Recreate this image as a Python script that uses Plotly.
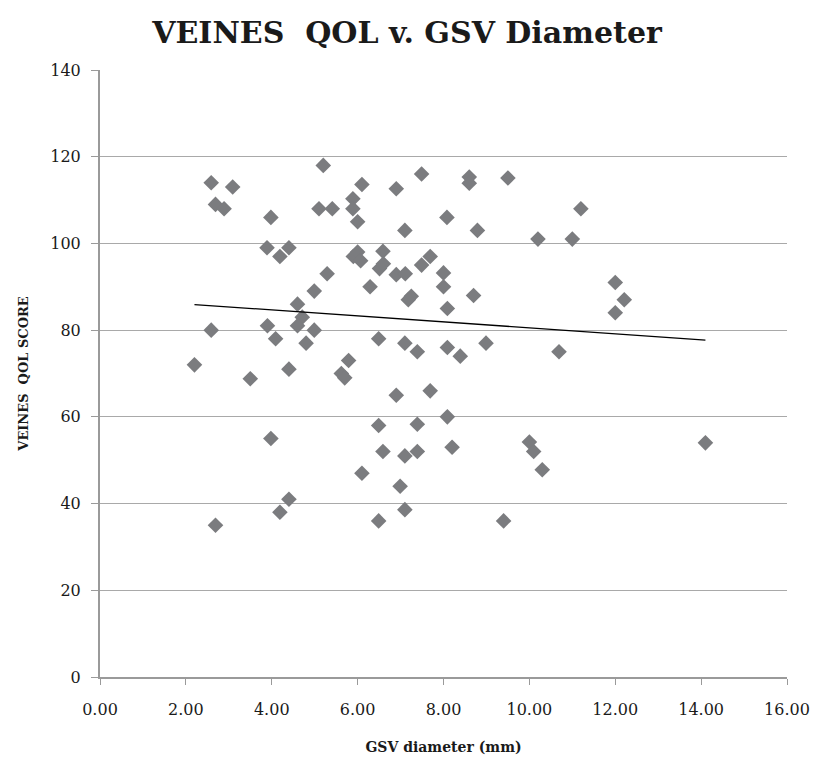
import plotly.graph_objects as go

gsv_diameter = [2.20, 2.59, 3.09, 2.69, 2.89, 5.20, 3.98, 5.10, 5.41, 3.89,
                4.40, 4.19, 5.29, 4.99, 4.60, 4.71, 4.60, 3.90, 2.59, 4.99,
                4.09, 4.80, 4.40, 3.50, 5.62, 5.70, 5.79, 6.10, 7.49, 6.90,
                8.60, 8.60, 9.50, 5.89, 5.89, 6.00, 8.08, 11.20, 7.10, 8.79,
                10.20, 11.00, 5.90, 6.00, 6.07, 6.59, 6.51, 6.60, 6.90, 7.11,
                7.69, 7.49, 8.00, 8.00, 6.29, 7.25, 7.18, 8.09, 8.70, 6.49,
                7.10, 7.39, 8.09, 8.39, 8.99, 10.69, 12.00, 12.21, 12.00, 3.98,
                4.40, 4.19, 2.69, 6.90, 7.69, 6.49, 7.39, 8.09, 6.59, 7.10,
                7.39, 8.20, 6.10, 6.99, 10.00, 10.10, 10.30, 7.10, 6.49, 9.40,
                14.10]
qol_score = [72.0, 114.0, 113.0, 109.0, 108.0, 118.0, 106.0, 108.0, 108.0, 99.0,
             99.0, 97.0, 93.0, 89.0, 86.0, 83.0, 81.0, 81.0, 80.0, 80.0,
             78.0, 77.0, 71.0, 68.8, 70.0, 69.0, 73.0, 113.6, 116.0, 112.6,
             115.3, 113.9, 115.1, 110.3, 108.0, 105.0, 106.0, 108.0, 103.0, 103.0,
             101.0, 101.0, 97.0, 98.0, 96.0, 98.2, 94.2, 95.3, 92.8, 93.0,
             97.0, 95.0, 93.2, 90.0, 90.0, 87.8, 87.0, 85.0, 88.0, 78.0,
             77.0, 75.0, 76.0, 74.0, 77.0, 75.0, 91.0, 87.0, 84.0, 55.0,
             41.0, 38.0, 35.0, 65.0, 66.0, 58.0, 58.3, 60.0, 52.0, 51.0,
             52.0, 53.0, 47.0, 44.0, 54.2, 52.0, 47.8, 38.6, 36.0, 36.0,
             54.0]

trend_x = [2.20, 14.10]
trend_y = [85.9, 77.7]

x_ticks = [0, 2, 4, 6, 8, 10, 12, 14, 16]
x_tick_labels = ["0.00", "2.00", "4.00", "6.00", "8.00", "10.00", "12.00", "14.00", "16.00"]
y_ticks = [0, 20, 40, 60, 80, 100, 120, 140]

SERIF = "DejaVu Serif"
AX = "#9a9a9a"
TXT = "#1a1a1a"

fig = go.Figure()
fig.add_trace(go.Scatter(
    x=gsv_diameter, y=qol_score, mode="markers",
    marker=dict(symbol="diamond", size=12, color="#7b7c7f", line=dict(width=0)),
    showlegend=False, hoverinfo="x+y"))
fig.add_trace(go.Scatter(
    x=trend_x, y=trend_y, mode="lines",
    line=dict(color="#000000", width=1.3), showlegend=False))

fig.update_layout(
    width=814, height=762, autosize=False,
    margin=dict(l=100, r=27, t=70, b=85, autoexpand=False),
    paper_bgcolor="white", plot_bgcolor="white",
    title=dict(text="<b>VEINES  QOL v. GSV Diameter</b>", x=0.5, xref="container",
               xanchor="center", y=0.958, yref="container", yanchor="middle",
               font=dict(family=SERIF, size=30, color=TXT)),
    font=dict(family=SERIF, color=TXT),
)
fig.update_xaxes(
    range=[0, 16], tickvals=x_ticks, ticktext=x_tick_labels, automargin=False,
    showgrid=False, zeroline=False, showline=True, linecolor=AX, linewidth=2,
    ticks="outside", ticklen=6, tickcolor=AX, tickwidth=1,
    ticklabelstandoff=11,
    tickfont=dict(family=SERIF, size=16, color=TXT),
    title=dict(text="<b>GSV diameter (mm)</b>", standoff=24,
               font=dict(family=SERIF, size=14, color=TXT)),
)
fig.update_yaxes(
    range=[0, 140], tickvals=y_ticks, automargin=False,
    showgrid=True, gridcolor="#a9a9a9", gridwidth=1, zeroline=False,
    showline=True, linecolor=AX, linewidth=2,
    ticks="outside", ticklen=7, tickcolor=AX, tickwidth=1,
    ticklabelstandoff=7,
    tickfont=dict(family=SERIF, size=16, color=TXT),
    title=dict(text="<b>VEINES  QOL SCORE</b>", standoff=19,
               font=dict(family=SERIF, size=13, color=TXT)),
)

fig.write_html("out.html")
